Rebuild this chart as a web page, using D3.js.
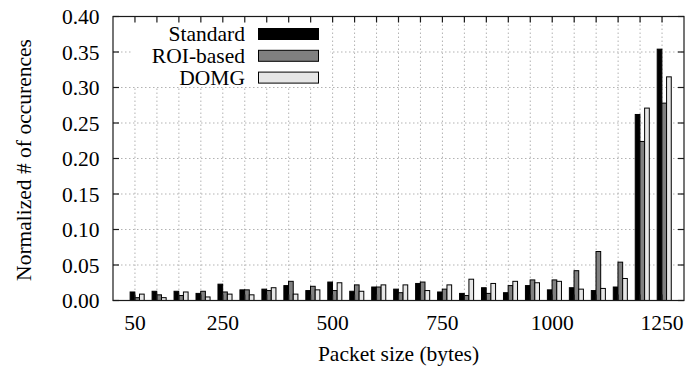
<!DOCTYPE html>
<html>
<head>
<meta charset="utf-8">
<script src="https://cdn.jsdelivr.net/npm/d3@7"></script>
<style>
  html, body { margin: 0; padding: 0; background: #fff; }
  svg { display: block; }
  text { font-family: "Liberation Serif", "Times New Roman", serif; fill: #000; }
</style>
</head>
<body>
<svg id="chart" width="686" height="369"></svg>
<script>
// Packet size bins (bytes)
const sizes = [50, 100, 150, 200, 250, 300, 350, 400, 450, 500, 550, 600, 650,
               700, 750, 800, 850, 900, 950, 1000, 1050, 1100, 1150, 1200, 1250];

// Normalized occurrence of each packet size, one array per scheme
const standard = [0.012, 0.013, 0.013, 0.010, 0.023, 0.015, 0.016, 0.021, 0.014, 0.026,
                  0.013, 0.019, 0.016, 0.024, 0.012, 0.010, 0.018, 0.011, 0.021, 0.015,
                  0.018, 0.014, 0.019, 0.262, 0.354];
const roiBased = [0.004, 0.008, 0.007, 0.013, 0.012, 0.015, 0.014, 0.027, 0.020, 0.014,
                  0.022, 0.019, 0.011, 0.026, 0.016, 0.007, 0.010, 0.021, 0.029, 0.029,
                  0.042, 0.069, 0.054, 0.224, 0.278];
const domg     = [0.009, 0.004, 0.012, 0.005, 0.009, 0.008, 0.018, 0.009, 0.015, 0.025,
                  0.013, 0.022, 0.022, 0.014, 0.022, 0.030, 0.024, 0.027, 0.025, 0.027,
                  0.016, 0.017, 0.031, 0.271, 0.315];

const seriesNames  = ["Standard", "ROI-based", "DOMG"];
const seriesColors = ["#000000", "#808080", "#e6e6e6"];
const seriesValues = [standard, roiBased, domg];

// Labelled x positions and y tick values
const xTickLabels = [50, 250, 500, 750, 1000, 1250];
const yTicks = [0, 0.05, 0.10, 0.15, 0.20, 0.25, 0.30, 0.35, 0.40];

const svg = d3.select("#chart");
const plot = { left: 113, right: 684, top: 16.5, bottom: 300.5 };
const FONT = 21.5;

// x: category index, one unit of padding on each side
const x = d3.scaleLinear().domain([-1, sizes.length]).range([plot.left, plot.right]);
const y = d3.scaleLinear().domain([0, 0.4]).range([plot.bottom, plot.top]);
// bar slots within a cluster, slightly right of the tick
const inner = d3.scaleBand().domain(d3.range(seriesNames.length)).range([-0.22, 0.42]).padding(0);

// grid
const grid = svg.append("g").attr("stroke", "#b3b3b3").attr("stroke-width", 1)
  .attr("stroke-dasharray", "1.5,2.5").attr("fill", "none");
grid.selectAll("line.gx").data(sizes).join("line")
  .attr("x1", (d, i) => x(i)).attr("x2", (d, i) => x(i))
  .attr("y1", plot.top).attr("y2", plot.bottom);
grid.selectAll("line.gy").data(yTicks.slice(1, -1)).join("line")
  .attr("x1", plot.left).attr("x2", plot.right)
  .attr("y1", d => y(d)).attr("y2", d => y(d));

// bars
const rows = sizes.map((s, i) => seriesValues.map((vals, j) => ({ i, j, v: vals[i] })));
svg.append("g").selectAll("g").data(rows).join("g")
  .selectAll("rect").data(d => d).join("rect")
  .attr("x", d => x(d.i + inner(d.j)))
  .attr("width", d => x(inner.bandwidth()) - x(0))
  .attr("y", d => y(d.v))
  .attr("height", d => y(0) - y(d.v))
  .attr("fill", d => seriesColors[d.j])
  .attr("stroke", "#000").attr("stroke-width", 1);

// opaque key
const key = svg.append("g");
key.append("rect").attr("x", 131).attr("y", plot.top + 0.5).attr("width", 199).attr("height", 70)
  .attr("fill", "#fff");
const keyRows = key.selectAll("g.k").data(seriesNames).join("g")
  .attr("transform", (d, i) => `translate(0,${34 + i * 21.8})`);
keyRows.append("text").attr("x", 245).attr("y", 7).attr("text-anchor", "end")
  .attr("font-size", FONT).text(d => d);
keyRows.append("rect").attr("x", 258.5).attr("y", -5.5).attr("width", 60).attr("height", 11)
  .attr("fill", (d, i) => seriesColors[i]).attr("stroke", "#000").attr("stroke-width", 1);

// axes (border with mirrored ticks)
const TL = 6;
const axes = svg.append("g").attr("stroke", "#1a1a1a").attr("stroke-width", 1.2);
axes.append("rect").attr("x", plot.left).attr("y", plot.top)
  .attr("width", plot.right - plot.left).attr("height", plot.bottom - plot.top)
  .attr("fill", "none");
sizes.forEach((s, i) => {
  axes.append("line").attr("x1", x(i)).attr("x2", x(i)).attr("y1", plot.bottom).attr("y2", plot.bottom - TL);
  axes.append("line").attr("x1", x(i)).attr("x2", x(i)).attr("y1", plot.top).attr("y2", plot.top + TL);
});
yTicks.forEach(t => {
  axes.append("line").attr("x1", plot.left).attr("x2", plot.left + TL).attr("y1", y(t)).attr("y2", y(t));
  axes.append("line").attr("x1", plot.right).attr("x2", plot.right - TL).attr("y1", y(t)).attr("y2", y(t));
});

// tick labels
svg.append("g").selectAll("text").data(yTicks).join("text")
  .attr("x", 99.5).attr("y", d => y(d) + 7.5).attr("text-anchor", "end")
  .attr("font-size", FONT).text(d => d3.format(".2f")(d));
svg.append("g").selectAll("text").data(xTickLabels).join("text")
  .attr("x", d => x(sizes.indexOf(d))).attr("y", 330).attr("text-anchor", "middle")
  .attr("font-size", FONT).text(d => d);

// axis titles
svg.append("text").attr("x", (plot.left + plot.right) / 2).attr("y", 361)
  .attr("text-anchor", "middle").attr("font-size", FONT).text("Packet size (bytes)");
svg.append("text").attr("transform", `translate(31,160) rotate(-90)`)
  .attr("text-anchor", "middle").attr("font-size", FONT).text("Normalized # of occurences");
</script>
</body>
</html>
